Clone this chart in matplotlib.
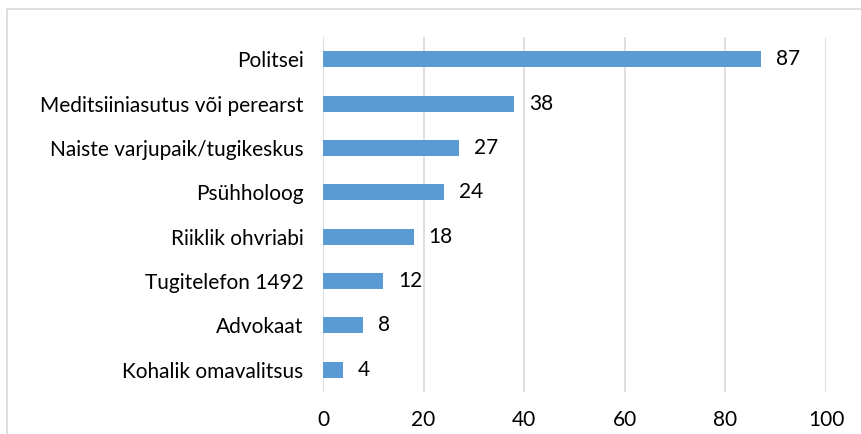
import matplotlib
matplotlib.use("Agg")
import matplotlib.pyplot as plt
from matplotlib.patches import Rectangle

categories = ["Politsei", "Meditsiiniasutus või perearst", "Naiste varjupaik/tugikeskus",
              "Psühholoog", "Riiklik ohvriabi", "Tugitelefon 1492", "Advokaat", "Kohalik omavalitsus"]
values = [87, 38, 27, 24, 18, 12, 8, 4]
xticks = [0, 20, 40, 60, 80, 100]

plt.rcParams['font.family'] = ['Lato', 'DejaVu Sans']
FS = 15

fig = plt.figure(figsize=(8.62, 4.34), dpi=100)
fig.patches.append(Rectangle((7/862, -0.1), 1.2, 1 - 9/434 + 0.1, transform=fig.transFigure,
                             fill=False, edgecolor='#D9D9D9', linewidth=1.2))
ax = fig.add_axes([323/862, 1 - 392/434, (826 - 323)/862, (392 - 37)/434])

y = list(range(len(categories)))
ax.barh(y, values, height=0.36, color='#5B9BD5', zorder=3)
for yi, v in zip(y, values):
    ax.text(v + 3.0, yi, str(v), va='center', ha='left', fontsize=FS, color='#000000')

ax.set_xlim(0, 100)
ax.set_ylim(len(categories) - 0.5, -0.5)
ax.set_xticks(xticks)
ax.set_xticklabels([str(t) for t in xticks], fontsize=FS)
ax.set_yticks(y)
ax.set_yticklabels(categories, fontsize=FS)
ax.tick_params(axis='both', length=0)
ax.tick_params(axis='x', pad=13)
ax.tick_params(axis='y', pad=14)
ax.grid(axis='x', color='#D9D9D9', linewidth=1.2, zorder=0)
for s in ax.spines.values():
    s.set_visible(False)

fig.savefig("out.png", dpi=100)
